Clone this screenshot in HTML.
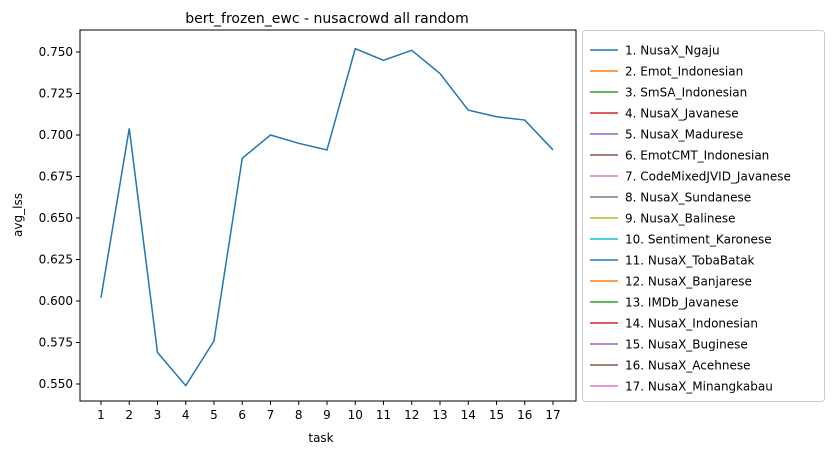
<!DOCTYPE html>
<html><head><meta charset="utf-8"><style>
body{margin:0;background:#fff;font-family:"Liberation Sans","DejaVu Sans",sans-serif;}
</style></head><body>
<svg id="chart" width="833" height="455" xmlns="http://www.w3.org/2000/svg" font-family="DejaVu Sans, Liberation Sans, sans-serif">
<rect width="833" height="455" fill="#fff"/>
<text x="327" y="23" font-size="14" text-anchor="middle">bert_frozen_ewc - nusacrowd all random</text>
<rect x="80" y="30" width="496" height="371" fill="none" stroke="#000" stroke-width="1"/>
<g id="yaxis"></g>
<g id="xaxis"></g>
<text x="321" y="442" font-size="12" text-anchor="middle">task</text>
<text transform="translate(22,215) rotate(-90)" font-size="12" text-anchor="middle">avg_lss</text>
<g id="series"></g>
<g id="legend"></g>
</svg>
<script>
const tasks=[1,2,3,4,5,6,7,8,9,10,11,12,13,14,15,16,17];
const avgLss=[0.602,0.704,0.569,0.549,0.576,0.686,0.700,0.695,0.691,0.752,0.745,0.751,0.737,0.715,0.711,0.709,0.691];
const yTicks=[0.550,0.575,0.600,0.625,0.650,0.675,0.700,0.725,0.750];
const legendLabels=["1. NusaX_Ngaju","2. Emot_Indonesian","3. SmSA_Indonesian","4. NusaX_Javanese","5. NusaX_Madurese","6. EmotCMT_Indonesian","7. CodeMixedJVID_Javanese","8. NusaX_Sundanese","9. NusaX_Balinese","10. Sentiment_Karonese","11. NusaX_TobaBatak","12. NusaX_Banjarese","13. IMDb_Javanese","14. NusaX_Indonesian","15. NusaX_Buginese","16. NusaX_Acehnese","17. NusaX_Minangkabau"];
const colors=["#1f77b4","#ff7f0e","#2ca02c","#d62728","#9467bd","#8c564b","#e377c2","#7f7f7f","#bcbd22","#17becf"];
const NS="http://www.w3.org/2000/svg";
const xs=t=>101+(t-1)*28.25;
const ys=v=>384-(v-0.55)*1660;
function mk(tag,attrs,parent){const e=document.createElementNS(NS,tag);for(const k in attrs)e.setAttribute(k,attrs[k]);parent.appendChild(e);return e;}
const ya=document.getElementById('yaxis'),xa=document.getElementById('xaxis');
yTicks.forEach(v=>{
 const l=mk('line',{x1:76,x2:80,y1:ys(v),y2:ys(v),stroke:'#000'},ya);
 
 
 const t=mk('text',{x:73,y:ys(v)+4,'font-size':12,'text-anchor':'end'},ya);
 t.textContent=v.toFixed(3);
 
 
});
tasks.forEach(k=>{
 const l=mk('line',{x1:xs(k),x2:xs(k),y1:401,y2:405,stroke:'#000'},xa);
 
 
 const t=mk('text',{x:xs(k),y:419,'font-size':12,'text-anchor':'middle'},xa);
 t.textContent=k;
 
 
});
const p=mk('polyline',{points:tasks.map((k,i)=>xs(k)+','+ys(avgLss[i])).join(' '),fill:'none',stroke:'#1f77b4','stroke-width':1.5},document.getElementById('series'));


const lg=document.getElementById('legend');
const box=mk('rect',{x:582.5,y:30.5,width:242,height:371,rx:3,fill:'#fff',stroke:'#ccc'},lg);


legendLabels.forEach((s,i)=>{
 const y=50+i*21;
 const l=mk('line',{x1:590,x2:618,y1:y,y2:y,stroke:colors[i%10],'stroke-width':1.5},lg);
 
 
 const t=mk('text',{x:625,y:y+4.5,'font-size':12},lg);
 t.textContent=s;
 
 
});
</script>
</body></html>
